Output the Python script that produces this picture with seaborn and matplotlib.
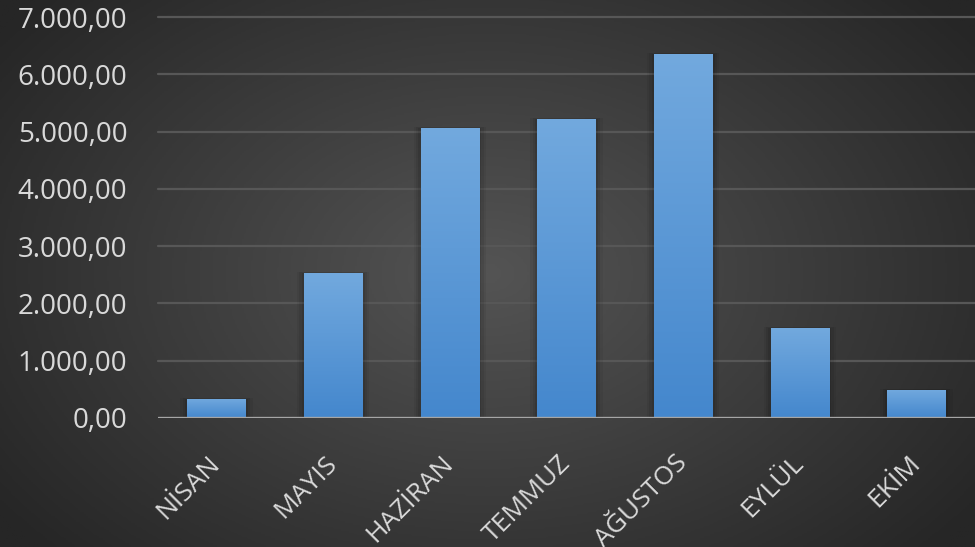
import numpy as np
import matplotlib
matplotlib.use("Agg")
import matplotlib.pyplot as plt
import seaborn as sns
import pandas as pd
from matplotlib.ticker import FuncFormatter
from matplotlib.colors import LinearSegmentedColormap

# data
aylar = ['NİSAN', 'MAYIS', 'HAZİRAN', 'TEMMUZ', 'AĞUSTOS', 'EYLÜL', 'EKİM']
tutar = [332, 2530, 5061, 5218, 6353, 1571, 489]
y_ticks = [0, 1000, 2000, 3000, 4000, 5000, 6000, 7000]

df = pd.DataFrame({'ay': aylar, 'tutar': tutar})

sns.set_theme(style='white')
plt.rcParams['font.family'] = ['Open Sans', 'DejaVu Sans']

fig = plt.figure(figsize=(9.75, 5.47), dpi=100)

# radial background
bg = fig.add_axes([0, 0, 1, 1])
yy, xx = np.mgrid[0:1:300j, 0:1:500j]
r = np.sqrt(((xx - 0.5) / 0.62) ** 2 + ((yy - 0.5) / 0.75) ** 2)
bg_cmap = LinearSegmentedColormap.from_list('bg', ['#545454', '#262626'])
bg.imshow(r, cmap=bg_cmap, vmin=0, vmax=1.0, aspect='auto', extent=[0, 1, 0, 1])
bg.set_axis_off()

ax = fig.add_axes([158 / 975, (547 - 418) / 547, 1 - 158 / 975, (418 - 17) / 547])
ax.patch.set_alpha(0)

sns.barplot(data=df, x='ay', y='tutar', color='#5b9bd5', width=0.5, ax=ax, zorder=3)

ax.set_ylim(0, 7000)
ax.set_xlim(-0.5, len(aylar) - 0.5)
ax.set_yticks(y_ticks)

def tr_fmt(v, pos):
    s = f"{v:,.2f}"
    return s.replace(',', 'X').replace('.', ',').replace('X', '.')

ax.yaxis.set_major_formatter(FuncFormatter(tr_fmt))

for y in y_ticks[1:]:
    ax.axhline(y, color='#575757', lw=1.6, zorder=1, clip_on=False)
ax.axhline(0, color='#a6a6a6', lw=2.4, zorder=5)

for s in ax.spines.values():
    s.set_visible(False)

# gradient fill + soft shadow for each bar
bar_cmap = LinearSegmentedColormap.from_list('bar', ['#4487cd', '#72a9de'])
grad = np.linspace(0, 1, 256).reshape(-1, 1)
for p in ax.patches:
    x0, w, h = p.get_x(), p.get_width(), p.get_height()
    for k, a in [(0.06, 0.05), (0.04, 0.07), (0.02, 0.09)]:
        ax.add_patch(plt.Rectangle((x0 - k, 0), w + 2 * k, h + k * 400,
                                   color='black', alpha=a, lw=0, zorder=2))
    im = ax.imshow(grad, cmap=bar_cmap, aspect='auto', origin='lower',
                   extent=[x0, x0 + w, 0, h], zorder=4)
    im.set_clip_path(p)
    p.set_edgecolor('none')

ax.set_xlim(-0.5, len(aylar) - 0.5)
ax.set_ylim(0, 7000)

ax.set_xlabel('')
ax.set_ylabel('')
ax.tick_params(axis='y', length=0, pad=22, labelsize=20, labelcolor='#d9d9d9')
ax.tick_params(axis='x', length=0, pad=30, labelsize=19, labelcolor='#d9d9d9')
for lbl in ax.get_xticklabels():
    lbl.set_rotation(45)
    lbl.set_ha('right')
    lbl.set_va('center')
    lbl.set_rotation_mode('anchor')

fig.savefig('out.png', dpi=100)
